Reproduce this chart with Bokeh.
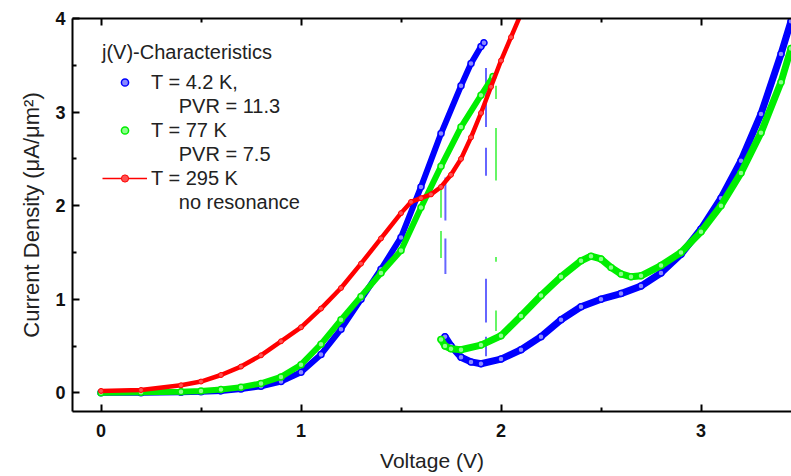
from bokeh.plotting import figure
from bokeh.models import Range1d, LinearAxis, Legend, LegendItem, FixedTicker
from bokeh.embed import file_html
from bokeh.resources import INLINE

# ---------------- data ----------------
# T = 4.2 K, up-sweep branch (before the resonance drop)
v_42_up = [0.0, 0.2, 0.4, 0.5, 0.6, 0.7, 0.8, 0.9, 1.0, 1.1, 1.2, 1.3, 1.4, 1.5, 1.6, 1.7, 1.8, 1.85, 1.9, 1.915]
j_42_up = [0.0, 0.0, 0.005, 0.01, 0.02, 0.04, 0.07, 0.12, 0.22, 0.41, 0.68, 1.00, 1.32, 1.66, 2.20, 2.77, 3.28, 3.52, 3.70, 3.74]
# T = 4.2 K, valley branch
v_42_low = [1.72, 1.75, 1.8, 1.85, 1.9, 2.0, 2.1, 2.2, 2.3, 2.4, 2.5, 2.6, 2.7, 2.8, 2.9, 3.0, 3.1, 3.2, 3.3, 3.4, 3.45]
j_42_low = [0.60, 0.50, 0.38, 0.33, 0.31, 0.36, 0.46, 0.60, 0.78, 0.92, 1.00, 1.06, 1.14, 1.28, 1.48, 1.75, 2.08, 2.48, 2.98, 3.62, 3.97]

# T = 77 K, up-sweep branch
v_77_up = [0.0, 0.2, 0.4, 0.5, 0.6, 0.7, 0.8, 0.9, 1.0, 1.1, 1.2, 1.3, 1.4, 1.5, 1.6, 1.7, 1.8, 1.9, 1.96]
j_77_up = [0.0, 0.005, 0.01, 0.02, 0.035, 0.06, 0.10, 0.17, 0.30, 0.52, 0.78, 1.03, 1.28, 1.52, 1.98, 2.42, 2.84, 3.18, 3.38]
# T = 77 K, valley branch
v_77_low = [1.70, 1.72, 1.75, 1.8, 1.9, 2.0, 2.1, 2.2, 2.3, 2.4, 2.45, 2.5, 2.55, 2.6, 2.65, 2.7, 2.8, 2.9, 3.0, 3.1, 3.2, 3.3, 3.4, 3.45]
j_77_low = [0.57, 0.50, 0.47, 0.46, 0.51, 0.61, 0.82, 1.04, 1.24, 1.41, 1.46, 1.43, 1.34, 1.27, 1.24, 1.25, 1.36, 1.50, 1.72, 2.00, 2.35, 2.78, 3.32, 3.68]

# T = 295 K
v_295 = [0.0, 0.2, 0.4, 0.5, 0.6, 0.7, 0.8, 0.9, 1.0, 1.1, 1.2, 1.3, 1.4, 1.5, 1.55, 1.6, 1.65, 1.7, 1.75, 1.8, 1.85, 1.9, 1.95, 2.0, 2.05, 2.1]
j_295 = [0.02, 0.03, 0.08, 0.12, 0.19, 0.28, 0.40, 0.55, 0.70, 0.90, 1.12, 1.38, 1.65, 1.92, 2.04, 2.08, 2.12, 2.20, 2.33, 2.50, 2.73, 2.99, 3.27, 3.55, 3.80, 4.05]

# switching jumps (sparse vertical points, visible pieces)
jump_42_down_v = 1.925
jump_42_down_j0 = [3.47, 2.62, 1.22, 0.60]
jump_42_down_j1 = [2.84, 2.32, 0.75, 0.39]
jump_42_up_v = 1.722
jump_42_up_j0 = [2.30, 1.65]
jump_42_up_j1 = [1.84, 1.27]
jump_77_up_v = 1.700
jump_77_up_j0 = [2.19, 1.73]
jump_77_up_j1 = [1.87, 1.44]
jump_77_down_v = 1.975
jump_77_down_j0 = [3.28, 2.83, 1.45, 0.88]
jump_77_down_j1 = [3.14, 2.27, 1.40, 0.66]

x_ticks = [0, 1, 2, 3]
x_minor = [0.5, 1.5, 2.5]
y_ticks = [0, 1, 2, 3, 4]
y_minor = [0.5, 1.5, 2.5, 3.5]

legend_title = "j(V)-Characteristics"
labels = ["T = 4.2 K,", "PVR = 11.3", "T = 77 K", "PVR = 7.5", "T = 295 K", "no resonance"]

BLUE = "#0000ff"
BLUE_FILL = "#8a8aff"
GREEN = "#00ee00"
GREEN_FILL = "#8cff8c"
RED = "#ff0000"
FONT = "Liberation Sans"

# ---------------- figure ----------------
p = figure(width=791, height=476, output_backend="svg", toolbar_location=None,
           x_range=Range1d(-0.1425, 3.4525), y_range=Range1d(-0.2, 4.0),
           min_border_left=72, min_border_right=0, min_border_top=18, min_border_bottom=65)
p.xgrid.visible = False
p.ygrid.visible = False
p.outline_line_color = None

p.xaxis.ticker = FixedTicker(ticks=x_ticks, minor_ticks=x_minor)
p.yaxis.ticker = FixedTicker(ticks=y_ticks, minor_ticks=y_minor)
p.xaxis.axis_label = "Voltage (V)"
p.yaxis.axis_label = "Current Density (\u03bcA/\u03bcm\u00b2)"

for ax in [p.xaxis[0], p.yaxis[0]]:
    ax.axis_line_width = 2
    ax.major_tick_in = 7
    ax.major_tick_out = 0
    ax.minor_tick_in = 4
    ax.minor_tick_out = 0
    ax.major_tick_line_width = 2
    ax.minor_tick_line_width = 2
    ax.major_label_text_font = FONT
    ax.major_label_text_font_size = "18px"
    ax.major_label_text_font_style = "bold"
    ax.major_label_text_color = "#111111"
    ax.axis_label_text_font = FONT
    ax.axis_label_text_font_style = "normal"
    ax.axis_label_text_color = "#222222"
p.xaxis[0].axis_label_text_font_size = "21px"
p.yaxis[0].axis_label_text_font_size = "22px"
p.xaxis[0].major_label_standoff = 12
p.xaxis[0].axis_label_standoff = 9
p.yaxis[0].major_label_standoff = 7
p.yaxis[0].axis_label_standoff = 8

top = LinearAxis(ticker=FixedTicker(ticks=x_ticks, minor_ticks=x_minor),
                 major_label_text_font_size="1px", major_label_text_color=None,
                 major_label_standoff=0,
                 axis_line_width=2, major_tick_in=7, major_tick_out=0,
                 minor_tick_in=4, minor_tick_out=0,
                 major_tick_line_width=2, minor_tick_line_width=2)
p.add_layout(top, "above")

# ---------------- jumps ----------------
def jumps(v, j0, j1, color):
    p.segment(x0=[v] * len(j0), y0=j0, x1=[v] * len(j0), y1=j1,
              line_color=color, line_width=2, line_alpha=0.6)

jumps(jump_42_down_v, jump_42_down_j0, jump_42_down_j1, BLUE)
jumps(jump_42_up_v, jump_42_up_j0, jump_42_up_j1, BLUE)
jumps(jump_77_up_v, jump_77_up_j0, jump_77_up_j1, GREEN)
jumps(jump_77_down_v, jump_77_down_j0, jump_77_down_j1, GREEN)

# ---------------- series ----------------
p.line(v_42_up, j_42_up, line_color=BLUE, line_width=6, line_join="round", line_cap="round")
blue_sc = p.scatter(v_42_up, j_42_up, size=6, line_color=BLUE, fill_color=BLUE_FILL, line_width=1.5)
p.line(v_42_low, j_42_low, line_color=BLUE, line_width=7, line_join="round", line_cap="round")
p.scatter(v_42_low, j_42_low, size=6, line_color=BLUE, fill_color=BLUE_FILL, line_width=1.5)

p.line(v_77_up, j_77_up, line_color=GREEN, line_width=6, line_join="round", line_cap="round")
green_sc = p.scatter(v_77_up, j_77_up, size=6, line_color=GREEN, fill_color=GREEN_FILL, line_width=1.5)
p.line(v_77_low, j_77_low, line_color=GREEN, line_width=7, line_join="round", line_cap="round")
p.scatter(v_77_low, j_77_low, size=6, line_color=GREEN, fill_color=GREEN_FILL, line_width=1.5)

p.line(v_295, j_295, line_color=RED, line_width=4.5, line_join="round", line_cap="round")
red_sc = p.scatter(v_295, j_295, size=5, line_color=RED, fill_color="#ff5050", line_width=1)

# ---------------- legend ----------------
nan = float("nan")
blank = p.scatter([nan], [nan], alpha=0)
red_leg_line = p.line([nan], [nan], line_color=RED, line_width=1.3)
NB = "\u00a0" * 5
items = [
    LegendItem(label=labels[0], renderers=[blue_sc]),
    LegendItem(label=NB + labels[1], renderers=[blank]),
    LegendItem(label=labels[2], renderers=[green_sc]),
    LegendItem(label=NB + labels[3], renderers=[blank]),
    LegendItem(label=labels[4], renderers=[red_leg_line, red_sc]),
    LegendItem(label=NB + labels[5], renderers=[blank]),
]
legend = Legend(items=items, location=(30, 197), title=legend_title,
                title_text_font=FONT, title_text_font_size="20px", title_text_font_style="normal",
                title_text_color="#222222", title_standoff=6,
                label_text_font=FONT, label_text_font_size="20px", label_text_color="#222222",
                glyph_width=45, glyph_height=18, label_height=24, label_standoff=4,
                spacing=0, padding=0, margin=0,
                background_fill_alpha=0, border_line_alpha=0)
p.add_layout(legend)

open("out.html", "w").write(file_html(p, INLINE))
